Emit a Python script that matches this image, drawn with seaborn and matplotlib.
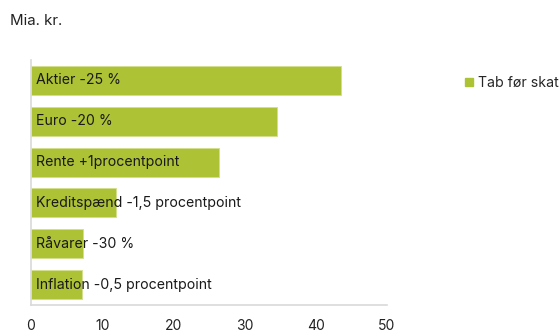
import matplotlib
matplotlib.use("Agg")
import matplotlib.pyplot as plt
import seaborn as sns
import pandas as pd
from matplotlib.lines import Line2D

categories = ["Aktier -25 %", "Euro -20 %", "Rente +1procentpoint",
              "Kreditspænd -1,5 procentpoint", "Råvarer -30 %",
              "Inflation -0,5 procentpoint"]
values = [43.5, 34.5, 26.4, 11.9, 7.3, 7.2]
series_name = "Tab før skat"
xticks = [0, 10, 20, 30, 40, 50]

sns.set_theme(style="white")
plt.rcParams['font.family'] = ['Inter', 'DejaVu Sans']

df = pd.DataFrame({"cat": categories, "val": values})
color = "#AEC236"

fig = plt.figure(figsize=(5.6, 3.32), dpi=100)
ax = fig.add_axes([31/560, 1 - 305/332, (387 - 31)/560, (305 - 60)/332])
sns.barplot(data=df, x="val", y="cat", orient="h", color=color, width=0.71,
            edgecolor="#D3DE8E", linewidth=0.6, saturation=1, ax=ax)
ax.set_xlim(0, 50)
ax.set_ylim(5.5, -0.5)
ax.set_xticks(xticks)
ax.set_xticklabels([str(t) for t in xticks], fontsize=10, color="#222222")
ax.set_yticks([])
ax.set_xlabel("")
ax.set_ylabel("")
ax.tick_params(axis="x", length=0, pad=10)
for s in ["top", "right"]:
    ax.spines[s].set_visible(False)
for s in ["left", "bottom"]:
    ax.spines[s].set_color("#D9D9D9")
    ax.spines[s].set_linewidth(1.2)

for i, c in enumerate(categories):
    ax.text(0.7, i, c, va="center", ha="left", fontsize=10.2, color="#1a1a1a")

fig.text(10/560, 1 - 21/332, "Mia. kr.", fontsize=10.8, color="#222222",
         va="center", ha="left")

handle = Line2D([], [], marker="s", color="none", markerfacecolor=color,
                markeredgecolor=color, markersize=6)
fig.legend([handle], [series_name], loc="center left",
           bbox_to_anchor=(462/560, 1 - 83/332), frameon=False,
           fontsize=10.2, handletextpad=0.1, handlelength=1.0,
           borderaxespad=0, borderpad=0)

fig.savefig("out.png", dpi=100)
